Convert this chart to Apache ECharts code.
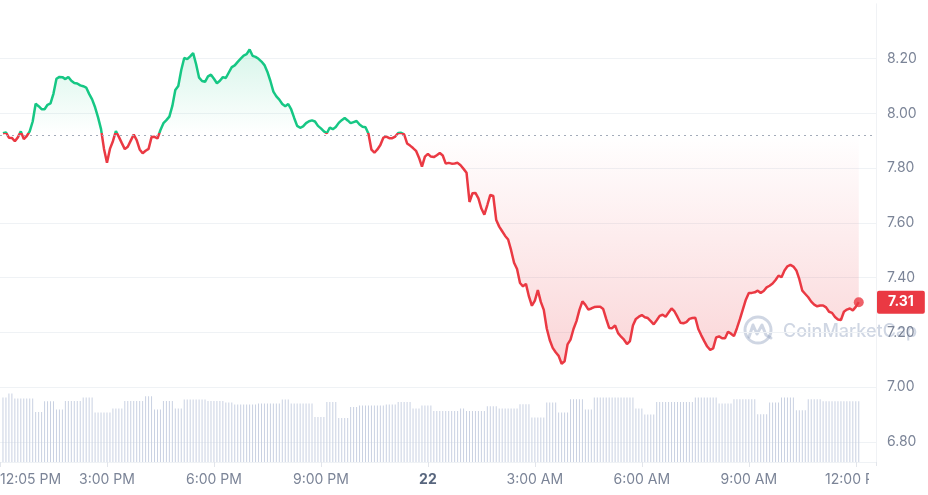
<!DOCTYPE html>
<html>
<head>
<meta charset="utf-8">
<title>24h price</title>
<script src="https://cdn.jsdelivr.net/npm/echarts@6.0.0/dist/echarts.min.js"></script>
<style>
  html, body { margin: 0; padding: 0; background: #fff; }
  #chart { width: 928px; height: 495px; }
</style>
</head>
<body>
<div id="chart"></div>
<script>
  // one point every 5 minutes, from 12:05 PM on the 21st to about 12:05 PM on the 22nd
  const startMinute = 12 * 60 + 5;
  const stepMinutes = 5;
  const dayLabel = '22';

  const priceValues = [
    7.927, 7.930, 7.911, 7.910, 7.898, 7.912, 7.934, 7.906, 7.917, 7.934,
    7.970, 8.035, 8.026, 8.015, 8.015, 8.031, 8.036, 8.072, 8.126, 8.133,
    8.132, 8.125, 8.133, 8.119, 8.111, 8.109, 8.102, 8.099, 8.094, 8.071,
    8.051, 8.022, 7.985, 7.942, 7.870, 7.819, 7.870, 7.898, 7.935, 7.914,
    7.891, 7.869, 7.878, 7.900, 7.922, 7.902, 7.868, 7.854, 7.863, 7.870,
    7.913, 7.914, 7.908, 7.939, 7.964, 7.975, 7.988, 8.027, 8.085, 8.100,
    8.158, 8.202, 8.198, 8.208, 8.220, 8.179, 8.130, 8.118, 8.115, 8.135,
    8.141, 8.126, 8.110, 8.119, 8.132, 8.129, 8.149, 8.169, 8.175, 8.188,
    8.200, 8.211, 8.216, 8.233, 8.210, 8.206, 8.199, 8.189, 8.176, 8.151,
    8.118, 8.079, 8.062, 8.050, 8.034, 8.026, 8.034, 8.014, 7.983, 7.954,
    7.947, 7.952, 7.964, 7.971, 7.974, 7.970, 7.954, 7.945, 7.934, 7.927,
    7.948, 7.942, 7.950, 7.965, 7.975, 7.983, 7.974, 7.964, 7.968, 7.972,
    7.959, 7.951, 7.949, 7.925, 7.867, 7.856, 7.868, 7.884, 7.911, 7.915,
    7.909, 7.909, 7.915, 7.928, 7.929, 7.923, 7.890, 7.882, 7.873, 7.863,
    7.838, 7.805, 7.842, 7.852, 7.842, 7.840, 7.847, 7.855, 7.846, 7.816,
    7.819, 7.816, 7.817, 7.819, 7.810, 7.797, 7.783, 7.676, 7.708, 7.709,
    7.689, 7.652, 7.630, 7.665, 7.702, 7.698, 7.610, 7.586, 7.569, 7.552,
    7.539, 7.500, 7.454, 7.431, 7.380, 7.368, 7.377, 7.331, 7.297, 7.316,
    7.354, 7.311, 7.282, 7.214, 7.172, 7.143, 7.127, 7.114, 7.085, 7.094,
    7.156, 7.173, 7.212, 7.241, 7.282, 7.313, 7.300, 7.283, 7.287, 7.292,
    7.293, 7.293, 7.285, 7.249, 7.216, 7.215, 7.225, 7.197, 7.184, 7.173,
    7.157, 7.168, 7.225, 7.249, 7.257, 7.263, 7.255, 7.252, 7.241, 7.229,
    7.244, 7.260, 7.264, 7.257, 7.272, 7.287, 7.276, 7.256, 7.235, 7.233,
    7.237, 7.249, 7.252, 7.253, 7.212, 7.189, 7.168, 7.148, 7.136, 7.141,
    7.181, 7.185, 7.178, 7.178, 7.202, 7.195, 7.186, 7.215, 7.248, 7.284,
    7.319, 7.344, 7.344, 7.346, 7.352, 7.344, 7.351, 7.364, 7.370, 7.378,
    7.391, 7.407, 7.401, 7.426, 7.441, 7.446, 7.440, 7.426, 7.394, 7.352,
    7.340, 7.328, 7.312, 7.301, 7.295, 7.298, 7.298, 7.291, 7.275, 7.271,
    7.256, 7.247, 7.245, 7.275, 7.283, 7.287, 7.280, 7.293, 7.310
  ];

  // volume per 5 minutes (millions)
  const volumeValues = [
    3.22, 3.22,
    3.42, 3.42,
    3.17, 3.17, 3.17, 3.17, 3.17, 3.17, 3.17,
    2.50, 2.50, 2.50,
    3.04, 3.04, 3.04, 3.04,
    2.62, 2.62, 2.62,
    3.05, 3.05, 3.05, 3.05, 3.05, 3.05,
    3.22, 3.22, 3.22, 3.22,
    2.47, 2.47, 2.47, 2.47, 2.47, 2.47,
    2.67, 2.67, 2.67, 2.67,
    3.05, 3.05, 3.05, 3.05, 3.05, 3.05, 3.05,
    3.29, 3.29, 3.29,
    2.62, 2.62, 2.62,
    3.05, 3.05, 3.05, 3.05,
    2.67, 2.67, 2.67,
    3.12, 3.12, 3.12, 3.12, 3.12, 3.12, 3.12, 3.12,
    3.05, 3.05, 3.05, 3.05, 3.05, 3.05,
    2.97, 2.97, 2.97,
    2.87, 2.87, 2.87, 2.87, 2.87, 2.87, 2.87, 2.87,
    2.92, 2.92, 2.92, 2.92, 2.92, 2.92, 2.92, 2.92,
    3.12, 3.12, 3.12,
    2.92, 2.92, 2.92, 2.92, 2.92, 2.92, 2.92, 2.92,
    2.25, 2.25, 2.25, 2.25,
    3.00, 3.00, 3.00, 3.00,
    2.20, 2.20, 2.20, 2.20,
    2.75, 2.75, 2.75,
    2.82, 2.82, 2.82, 2.82, 2.82, 2.82, 2.82, 2.82, 2.82,
    2.87, 2.87, 2.87, 2.87,
    3.00, 3.00, 3.00, 3.00, 3.00,
    2.67, 2.67, 2.67,
    2.82, 2.82, 2.82, 2.82,
    2.55, 2.55, 2.55, 2.55, 2.55, 2.55, 2.55, 2.55, 2.55,
    2.67, 2.67,
    2.55, 2.55, 2.55, 2.55, 2.55, 2.55, 2.55,
    2.79, 2.79, 2.79, 2.79,
    2.67, 2.67, 2.67, 2.67, 2.67, 2.67, 2.67,
    2.89, 2.89, 2.89, 2.89,
    2.22, 2.22, 2.22, 2.22, 2.22,
    2.97, 2.97, 2.97, 2.97,
    2.47, 2.47, 2.47, 2.47,
    3.14, 3.14, 3.14, 3.14, 3.14,
    2.62, 2.62, 2.62,
    3.22, 3.22, 3.22, 3.22, 3.22, 3.22, 3.22, 3.22, 3.22, 3.22, 3.22, 3.22, 3.22, 3.22,
    2.67, 2.67, 2.67,
    2.37, 2.37, 2.37, 2.37,
    3.00, 3.00, 3.00, 3.00, 3.00, 3.00, 3.00, 3.00, 3.00, 3.00, 3.00, 3.00, 3.00,
    3.22, 3.22, 3.22, 3.22, 3.22, 3.22, 3.22, 3.22,
    2.92, 2.92, 2.92, 2.92, 2.92,
    3.14, 3.14, 3.14, 3.14, 3.14, 3.14, 3.14, 3.14,
    2.39, 2.39, 2.39, 2.39,
    2.97, 2.97, 2.97, 2.97,
    3.22, 3.22, 3.22, 3.22, 3.22,
    2.59, 2.59, 2.59, 2.59,
    3.14, 3.14, 3.14, 3.14, 3.14,
    3.04, 3.04, 3.04, 3.04, 3.04, 3.04, 3.04, 3.04, 3.04, 3.04, 3.04, 3.04, 3.04
  ];

  const baseline = 7.923; // price 24h ago (dotted line)
  const yTicks = { min: 6.6, max: 8.4, step: 0.2 };
  const xRange = { min: 720, max: 2194, step: 180 }; // minutes since 00:00 on the 21st

  const GREEN = '#16c784';
  const RED = '#ea3943';
  const LABEL = '#7b8497';
  const FONT = 'Inter';

  const times = priceValues.map((_, i) => startMinute + i * stepMinutes);
  const lastTime = times[times.length - 1];
  const lastPrice = priceValues[priceValues.length - 1];

  // the line and its area both span hi..lo vertically, so one split works for both
  const hi = Math.max(...priceValues);
  const lo = Math.min(...priceValues);
  const split = (hi - baseline) / (hi - lo);

  function clockLabel(min) {
    const h = Math.floor(min / 60) % 24;
    const m = min % 60;
    return (h % 12 || 12) + ':' + String(m).padStart(2, '0') + ' ' + (h < 12 ? 'AM' : 'PM');
  }

  const chart = echarts.init(document.getElementById('chart'));
  const wm = 'rgba(148,163,192,0.45)';

  const option = {
    animation: false,
    backgroundColor: '#fff',
    grid: [
      { left: 0, right: 52, top: 3.8, height: 492.75, containLabel: false, outerBoundsMode: 'none' },
      { left: 0, right: 52, bottom: 33, height: 100, containLabel: false, outerBoundsMode: 'none' }
    ],
    xAxis: [
      {
        type: 'value', gridIndex: 0, min: xRange.min, max: xRange.max, interval: xRange.step,
        show: false, splitLine: { show: false }
      },
      {
        type: 'value', gridIndex: 1, min: xRange.min, max: xRange.max, interval: xRange.step,
        splitLine: { show: false },
        axisLine: { show: true, lineStyle: { color: '#eff2f5' } },
        axisTick: { show: true, length: 5, lineStyle: { color: '#e2e5eb' } },
        axisLabel: {
          margin: 11, fontSize: 14, fontFamily: FONT, color: LABEL,
          showMinLabel: true, alignMinLabel: 'left',
          formatter: function (v) {
            if (v === xRange.min) return clockLabel(startMinute);
            if (v % xRange.step !== 0) return '';
            if (v % 1440 === 0) return '{day|' + dayLabel + '}';
            return clockLabel(v);
          },
          rich: { day: { fontSize: 14, fontFamily: FONT, fontWeight: 'bold', color: '#58667e' } }
        }
      }
    ],
    yAxis: [
      {
        type: 'value', gridIndex: 0, position: 'right',
        min: yTicks.min, max: yTicks.max, interval: yTicks.step,
        axisLine: { show: true, lineStyle: { color: '#f0f2f5' } },
        axisTick: { show: false },
        splitLine: { show: true, showMaxLine: false, lineStyle: { color: '#eff2f5' } },
        axisLabel: {
          margin: 11, fontSize: 14, fontFamily: FONT, color: LABEL,
          formatter: v => (v < yTicks.min + 0.1 || v > yTicks.max - 0.1) ? '' : v.toFixed(2)
        }
      },
      { type: 'value', gridIndex: 1, min: 0, max: 5, show: false, splitLine: { show: false } }
    ],
    series: [
      {
        name: 'Price',
        type: 'line',
        xAxisIndex: 0, yAxisIndex: 0,
        data: times.map((t, i) => [t, priceValues[i]]),
        symbol: 'none',
        lineStyle: {
          width: 2.5,
          color: {
            type: 'linear', x: 0, y: 0, x2: 0, y2: 1,
            colorStops: [
              { offset: 0, color: GREEN },
              { offset: split, color: GREEN },
              { offset: split, color: RED },
              { offset: 1, color: RED }
            ]
          }
        },
        areaStyle: {
          origin: baseline,
          color: {
            type: 'linear', x: 0, y: 0, x2: 0, y2: 1,
            colorStops: [
              { offset: 0, color: 'rgba(22,199,132,0.24)' },
              { offset: split, color: 'rgba(22,199,132,0)' },
              { offset: split, color: 'rgba(234,57,67,0)' },
              { offset: 1, color: 'rgba(234,57,67,0.3)' }
            ]
          }
        },
        markLine: {
          silent: true,
          symbol: ['none', 'none'],
          data: [
            {
              yAxis: baseline,
              lineStyle: { color: '#a3abb9', width: 1, type: [2, 4] },
              label: { show: false }
            },
            {
              yAxis: lastPrice,
              lineStyle: { color: 'rgba(0,0,0,0)', width: 0 },
              label: {
                show: true, position: 'end', distance: 1,
                formatter: lastPrice.toFixed(2),
                color: '#fff', fontFamily: FONT, fontSize: 14, fontWeight: 'bold',
                backgroundColor: RED, padding: [5, 11, 4, 11], borderRadius: 2
              }
            }
          ]
        },
        z: 3
      },
      {
        name: 'Last',
        type: 'scatter',
        xAxisIndex: 0, yAxisIndex: 0,
        data: [[lastTime, lastPrice]],
        symbolSize: 10,
        itemStyle: { color: RED },
        silent: true,
        z: 5
      },
      {
        name: 'Volume',
        type: 'bar',
        xAxisIndex: 1, yAxisIndex: 1,
        data: times.map((t, i) => [t, volumeValues[i]]),
        barWidth: 1,
        itemStyle: { color: '#c9d1e2' },
        silent: true
      }
    ],
    graphic: [
      // the last x label is cut off by the price column
      { type: 'rect', shape: { x: 869, y: 466, width: 59, height: 29 }, style: { fill: '#fff' }, z: 100, silent: true },
      {
        type: 'group', silent: true, z: 100,
        children: [
          { type: 'circle', shape: { cx: 758, cy: 330, r: 13 }, style: { fill: 'none', stroke: wm, lineWidth: 3 } },
          {
            type: 'polyline',
            shape: { points: [[749, 337], [753, 325], [757, 334], [762, 325], [766, 335], [771, 338]] },
            style: { fill: 'none', stroke: wm, lineWidth: 3, lineJoin: 'round', lineCap: 'round' }
          },
          { type: 'text', x: 783, y: 332, style: { text: 'CoinMarketCap', font: '500 18px Inter', fill: wm, verticalAlign: 'middle' } }
        ]
      }
    ]
  };

  chart.setOption(option);
</script>
</body>
</html>
